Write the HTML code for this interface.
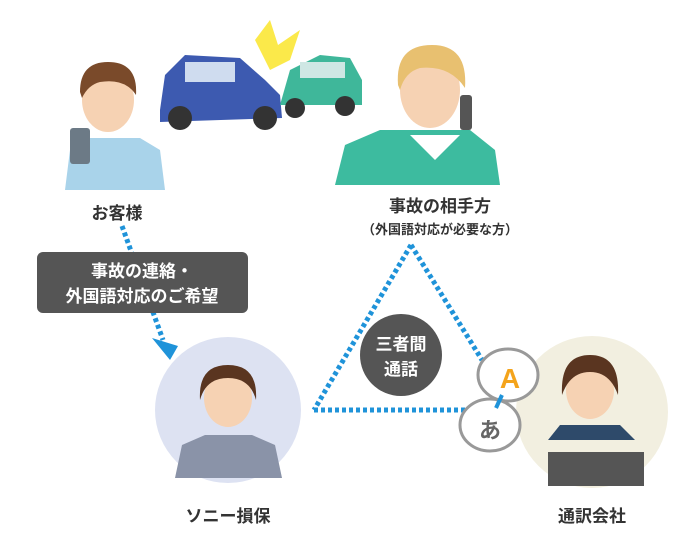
<!DOCTYPE html>
<html><head><meta charset="utf-8"><style>
body{margin:0;background:#fff;}
svg{display:block}
text{font-family:"Liberation Sans","Noto Sans CJK JP",sans-serif;font-weight:bold;}
</style></head><body>
<svg width="698" height="551" viewBox="0 0 698 551" xmlns="http://www.w3.org/2000/svg">
<rect width="698" height="551" fill="#fff"/>
<!-- circles -->
<circle cx="228" cy="410" r="73" fill="#dde2f2"/>
<circle cx="592" cy="412" r="76" fill="#f2efe0"/>
<!-- cars -->
<polygon points="255,40 270,20 278,45 300,30 290,60 270,70" fill="#fbe94a"/>
<path d="M160,110 L165,75 L185,55 L240,58 L265,80 L280,95 L282,118 L160,122 Z" fill="#3d5ab0"/>
<rect x="185" y="62" width="50" height="20" fill="#cfdcef"/>
<circle cx="180" cy="118" r="12" fill="#333"/><circle cx="265" cy="118" r="12" fill="#333"/>
<path d="M280,105 L290,70 L320,55 L350,58 L362,80 L362,105 Z" fill="#3fb79a"/>
<rect x="300" y="62" width="45" height="16" fill="#cfe7e4"/>
<circle cx="295" cy="108" r="10" fill="#333"/><circle cx="345" cy="106" r="10" fill="#333"/>
<!-- customer -->
<path d="M65,190 L70,150 L90,138 L140,138 L160,150 L165,190 Z" fill="#a9d3ea"/>
<ellipse cx="108" cy="100" rx="26" ry="32" fill="#f6d2b3"/>
<path d="M80,92 Q80,62 108,62 Q138,62 136,95 Q125,78 100,82 Q88,85 82,98Z" fill="#7a4a2a"/>
<rect x="70" y="128" width="20" height="36" rx="3" fill="#6c7a86"/>
<!-- other party -->
<path d="M335,185 L345,145 L380,130 L470,130 L495,150 L500,185 Z" fill="#3dbb9f"/>
<path d="M410,135 L435,160 L460,135Z" fill="#fff"/>
<ellipse cx="430" cy="90" rx="30" ry="38" fill="#f6d2b3"/>
<path d="M398,85 Q395,45 432,45 Q468,45 465,88 Q450,65 420,68 Q405,72 400,90Z" fill="#e8c070"/>
<rect x="460" y="95" width="12" height="35" rx="3" fill="#555"/>
<!-- labels -->
<text x="117" y="219" font-size="17" text-anchor="middle" fill="#333">お客様</text>
<text x="440" y="212" font-size="17" text-anchor="middle" fill="#333">事故の相手方</text>
<text x="440" y="234" font-size="13" text-anchor="middle" fill="#333">（外国語対応が必要な方）</text>
<!-- dotted arrow -->
<line x1="122" y1="226" x2="163" y2="340" stroke="#1f93d9" stroke-width="5" stroke-dasharray="4,3"/>
<polygon points="152,338 178,346 170,360" fill="#1f93d9"/>
<rect x="37" y="252" width="211" height="61" rx="6" fill="#555"/>
<text x="142" y="277" font-size="17" text-anchor="middle" fill="#fff">事故の連絡・</text>
<text x="142" y="302" font-size="17" text-anchor="middle" fill="#fff">外国語対応のご希望</text>
<!-- triangle -->
<g stroke="#1f93d9" stroke-width="5" stroke-dasharray="4,3" fill="none">
<line x1="411" y1="245" x2="314" y2="410"/>
<line x1="411" y1="245" x2="482" y2="360"/>
<line x1="314" y1="410" x2="468" y2="410"/>
</g>
<circle cx="401" cy="355" r="41" fill="#555"/>
<text x="401" y="350" font-size="17" text-anchor="middle" fill="#fff">三者間</text>
<text x="401" y="375" font-size="17" text-anchor="middle" fill="#fff">通話</text>
<!-- bubbles -->
<ellipse cx="508" cy="375" rx="30" ry="26" fill="#fff" stroke="#999" stroke-width="3"/>
<ellipse cx="490" cy="425" rx="30" ry="26" fill="#fff" stroke="#999" stroke-width="3"/>
<text x="510" y="388" font-size="28" text-anchor="middle" fill="#f4a41c">A</text>
<text x="490" y="438" font-size="22" text-anchor="middle" fill="#666" font-weight="normal">あ</text>
<line x1="502" y1="395" x2="496" y2="408" stroke="#1f93d9" stroke-width="4"/>
<!-- sony operator -->
<path d="M175,478 L182,445 L205,435 L252,435 L275,445 L282,478 Z" fill="#8a93a8"/>
<ellipse cx="228" cy="398" rx="24" ry="29" fill="#f6d2b3"/>
<path d="M200,400 Q198,365 228,365 Q258,365 256,400 Q250,378 228,378 Q206,378 200,400Z" fill="#5a3520"/>
<!-- interpreter -->
<ellipse cx="590" cy="390" rx="24" ry="29" fill="#f6d2b3"/>
<path d="M562,395 Q560,355 590,355 Q620,355 618,395 Q610,372 590,372 Q570,372 562,395Z" fill="#5a3520"/>
<path d="M548,440 L560,425 L620,425 L635,440 Z" fill="#2e4a6a"/>
<rect x="548" y="452" width="96" height="34" fill="#555"/>
<text x="228" y="522" font-size="17" text-anchor="middle" fill="#333">ソニー損保</text>
<text x="592" y="522" font-size="17" text-anchor="middle" fill="#333">通訳会社</text>
</svg>
</body></html>
